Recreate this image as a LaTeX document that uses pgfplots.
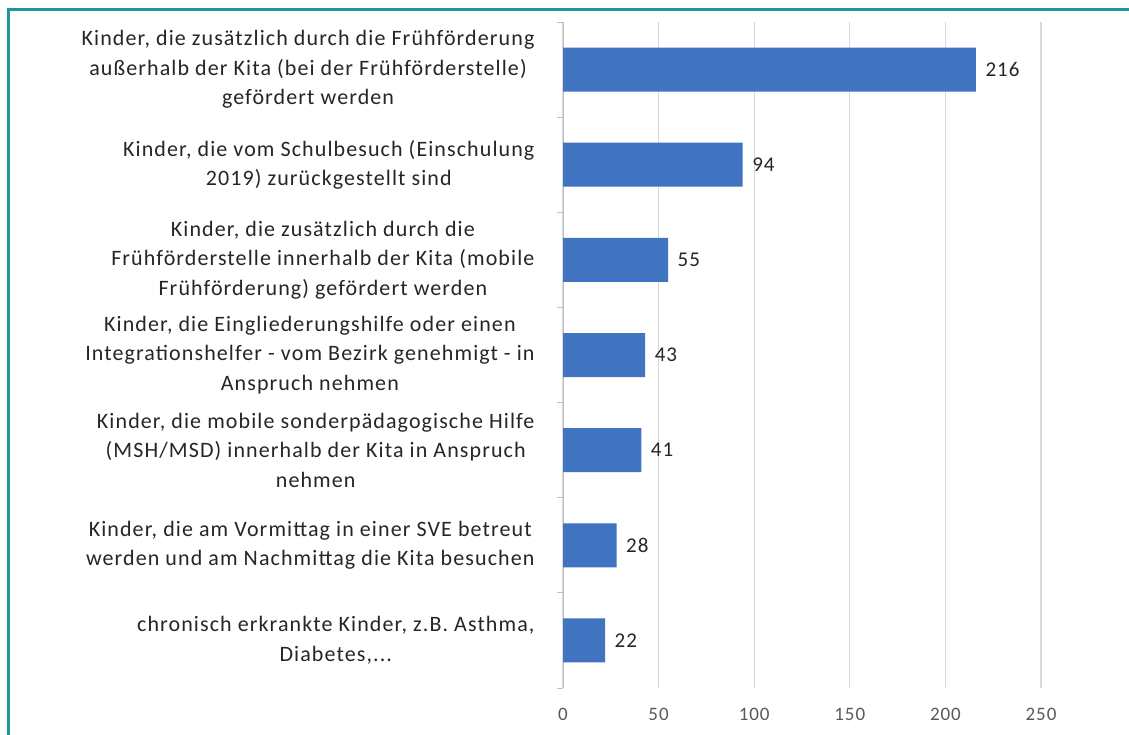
\documentclass[border=0pt]{standalone}
\usepackage{pgfplots}
\pgfplotsset{compat=1.18}
\usepackage{fontspec}
\setmainfont{Carlito}
\newfontfamily\labfont[LetterSpace=5]{Carlito}
\definecolor{barblue}{RGB}{64,116,192}
\definecolor{frameteal}{RGB}{30,150,155}
\definecolor{gridgray}{RGB}{217,217,217}
\definecolor{ticktext}{RGB}{89,89,89}
\definecolor{labtext}{RGB}{38,38,38}
\begin{document}
\begin{tikzpicture}
\useasboundingbox (0pt,0pt) rectangle (1129pt,735pt);
\fill[white] (0pt,0pt) rectangle (1129pt,735pt);
\draw[frameteal, line width=3pt] (8pt,-5pt) -- (8pt,725pt) -- (1140pt,725pt);
\begin{axis}[
  at={(563pt,47pt)}, anchor=south west,
  scale only axis, width=478pt, height=666pt,
  xmin=0, xmax=250, ymin=-0.5, ymax=6.5, y dir=reverse,
  xbar, bar width=44pt,
  xtick={0,50,100,150,200,250},
  ytick={0,1,2,3,4,5,6},
  minor ytick={-0.5,0.5,1.5,2.5,3.5,4.5,5.5,6.5},
  major tick length=0pt, minor tick length=6pt,
  tick align=outside,
  minor tick style={gridgray!70!gray, line width=1pt},
  xmajorgrids, grid style={gridgray, line width=1.3pt},
  axis x line*=bottom, axis y line*=left,
  x axis line style={draw=none},
  y axis line style={gridgray!70!gray, line width=1pt},
  /pgf/number format/assume math mode=true,
  xticklabel style={font=\labfont\fontsize{19}{22}\selectfont, text=ticktext, yshift=-17pt},
  yticklabel style={font=\labfont\fontsize{22}{29.5}\selectfont, text=labtext, align=center, xshift=-25pt},
  yticklabels={
    {Kinder, die zusätzlich durch die Frühförderung\\außerhalb der Kita (bei der Frühförderstelle)\\gefördert werden},
    {Kinder, die vom Schulbesuch (Einschulung\\2019) zurückgestellt sind},
    {Kinder, die zusätzlich durch die\\Frühförderstelle innerhalb der Kita (mobile\\Frühförderung) gefördert werden},
    {Kinder, die Eingliederungshilfe oder einen\\Integrationshelfer - vom Bezirk genehmigt - in\\Anspruch nehmen},
    {Kinder, die mobile sonderpädagogische Hilfe\\(MSH/MSD) innerhalb der Kita in Anspruch\\nehmen},
    {Kinder, die am Vormittag in einer SVE betreut\\werden und am Nachmittag die Kita besuchen},
    {chronisch erkrankte Kinder, z.B. Asthma,\\Diabetes,.{}.{}.}
  },
  nodes near coords,
  nodes near coords style={font=\labfont\fontsize{21}{24}\selectfont, text=black!85, xshift=6pt},
]
\addplot[fill=barblue, draw=none] coordinates {
  (216,0) (94,1) (55,2) (43,3) (41,4) (28,5) (22,6)
};
\end{axis}
\end{tikzpicture}
\end{document}
